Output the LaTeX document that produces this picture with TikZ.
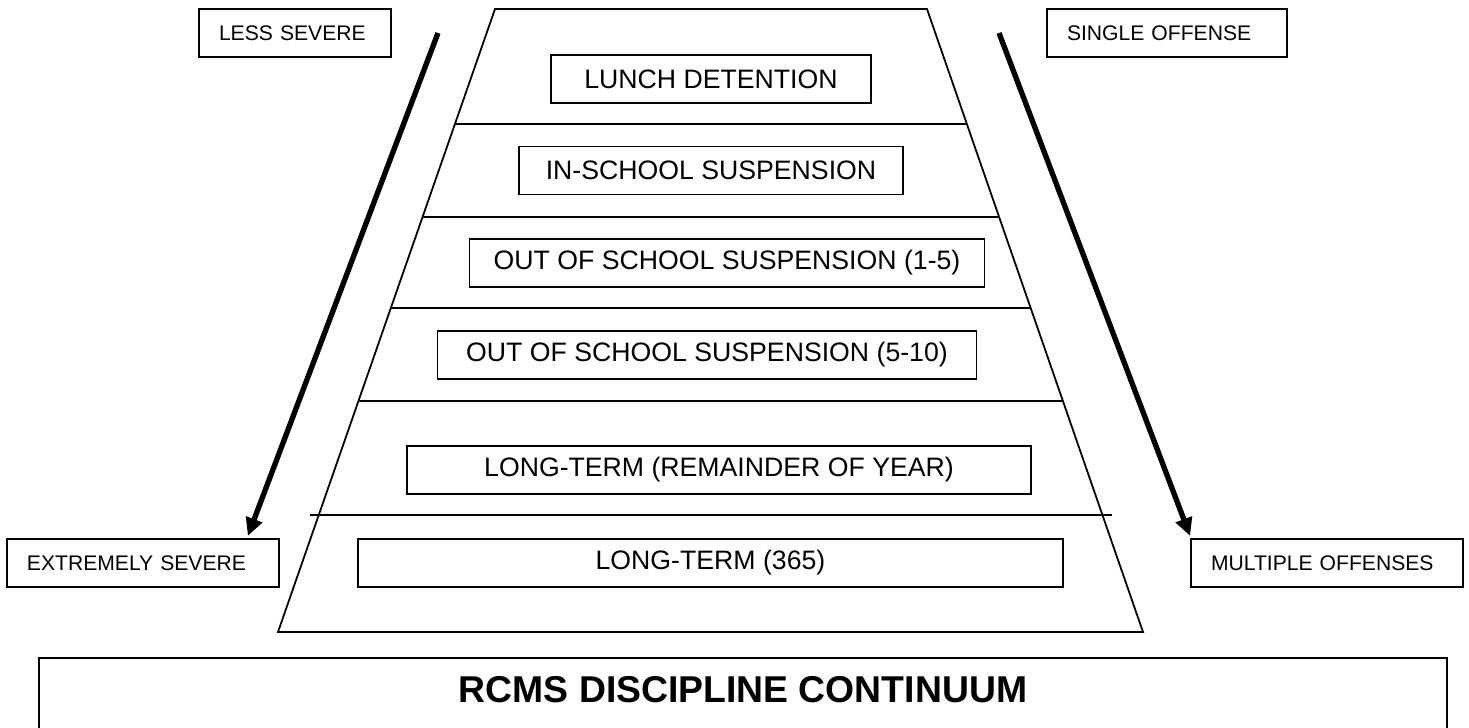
\documentclass[tikz,border=0pt]{standalone}
\usepackage{fontspec}
\setmainfont{Liberation Sans}
\usetikzlibrary{arrows.meta}

\tikzset{
  rowbox/.style={draw, line width=0.8pt, minimum width=#1, minimum height=21.6pt,
    inner sep=0pt, font=\fontsize{12}{14}\selectfont},
  sidebox/.style={draw, line width=0.8pt, text width=#1, align=left, inner xsep=9pt,
    inner ysep=0pt, minimum height=21.6pt, font=\fontsize{9.5}{11}\selectfont,
    execute at begin node={\hyphenpenalty=10000}},
  bigarrow/.style={line width=2.4pt, -{Triangle[length=8pt,width=7.5pt]}}
}

\begin{document}
\begin{tikzpicture}[x=0.45pt,y=-0.45pt]
\useasboundingbox (0,0) rectangle (1469,727);

% pyramid
\coordinate (tl) at (495,9);
\coordinate (tr) at (927,9);
\coordinate (br) at (1143,632);
\coordinate (bl) at (278,632);
\draw[line width=0.8pt] (tl) -- (tr) -- (br) -- (bl) -- cycle;
\begin{scope}
  \clip (tl) -- (tr) -- (br) -- (bl) -- cycle;
  \foreach \y in {124,217,308,401}
    \draw[line width=0.8pt] (0,\y) -- (1469,\y);
\end{scope}
\draw[line width=0.8pt] (310,515) -- (1112,515);

% levels
\node[rowbox=144pt]    (lunch)  at (711,79)    {LUNCH DETENTION};
\node[rowbox=172.8pt]  (iss)    at (711,170.5) {IN-SCHOOL SUSPENSION};
\node[rowbox=231.75pt] (oss)    at (727,263)   {OUT OF SCHOOL SUSPENSION (1-5)};
\node[rowbox=242.55pt] (osslong) at (707,355)  {OUT OF SCHOOL SUSPENSION (5-10)};
\node[rowbox=280.8pt]  (ltyear) at (719,470)   {LONG-TERM (REMAINDER OF YEAR)};
\node[rowbox=317.25pt] (ltfull) at (710.5,563) {LONG-TERM (365)};

% side labels
\node[sidebox=68.4pt]  (less)   at (295,33)   {LESS SEVERE};
\node[sidebox=90pt]    (single) at (1167,33)  {SINGLE OFFENSE};
\node[sidebox=104.4pt] (ext)    at (143,563)  {EXTREMELY SEVERE};
\node[sidebox=104.4pt] (multi)  at (1327,563) {MULTIPLE OFFENSES};

% arrows
\coordinate (lessstart) at (438,33);
\coordinate (singlestart) at (999,33);
\draw[bigarrow] (lessstart) -- ([xshift=-14.4pt,yshift=1pt]ext.north east);
\draw[bigarrow] (singlestart) -- ([yshift=1pt]multi.north west);

% title
\draw[line width=0.8pt] (39,740) |- (1447,658) -- (1447,740);
\node[font=\fontsize{16.8}{20}\bfseries] (title) at (743,690) {RCMS DISCIPLINE CONTINUUM};
\end{tikzpicture}
\end{document}
